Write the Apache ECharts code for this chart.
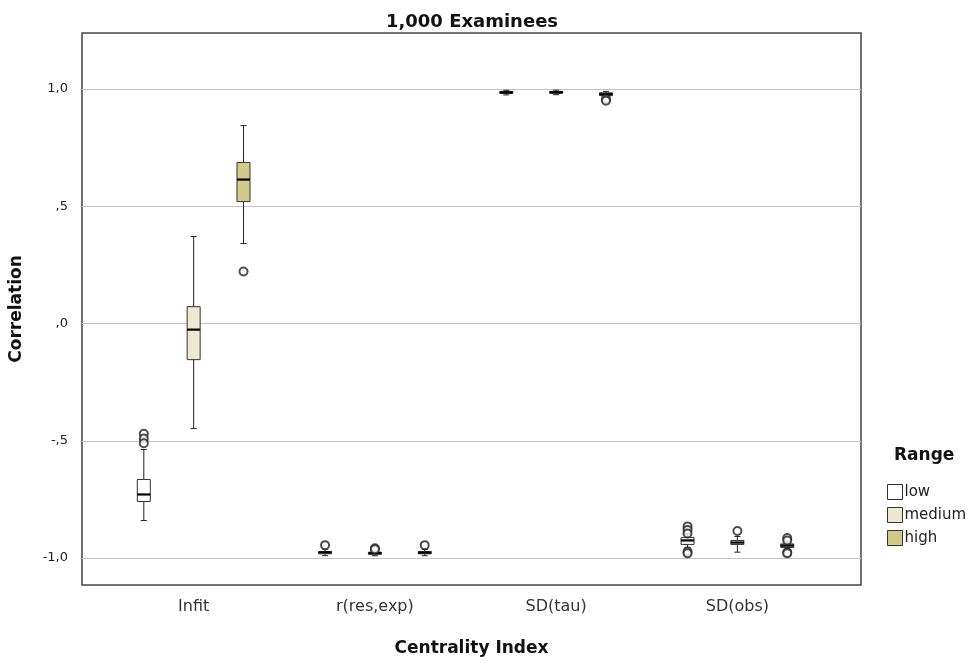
<!DOCTYPE html>
<html>
<head>
<meta charset="utf-8">
<script src="https://cdn.jsdelivr.net/npm/echarts@6/dist/echarts.min.js"></script>
<style>
  html, body { margin: 0; padding: 0; background: #fff; }
  #chart { width: 970px; height: 663px; }
</style>
</head>
<body>
<div id="chart"></div>
<script>
// categories on the x axis and the three ranges
const categories = ['Infit', 'r(res,exp)', 'SD(tau)', 'SD(obs)'];
const ranges = ['low', 'medium', 'high'];
const rangeColors = ['#ffffff', '#eee8d3', '#d1ca8b'];
const yTicks = [-1, -0.5, 0, 0.5, 1];

// box rows per category: [whisker low, q1, median, q3, whisker high]
const lowBoxes = [
    [-0.84, -0.759, -0.729, -0.665, -0.537],
    [-0.99, -0.982, -0.976, -0.972, -0.962],
    [0.975, 0.981, 0.986, 0.99, 0.995],
    [-0.955, -0.942, -0.925, -0.913, -0.9]
];
const mediumBoxes = [
    [-0.448, -0.154, -0.026, 0.072, 0.371],
    [-0.99, -0.984, -0.979, -0.975, -0.968],
    [0.976, 0.982, 0.986, 0.99, 0.995],
    [-0.975, -0.942, -0.934, -0.925, -0.908]
];
const highBoxes = [
    [0.341, 0.52, 0.614, 0.687, 0.844],
    [-0.99, -0.982, -0.977, -0.972, -0.963],
    [0.965, 0.972, 0.978, 0.984, 0.99],
    [-0.965, -0.955, -0.947, -0.94, -0.93]
];

// outliers: [category index, value]
const lowOutliers = [
    [0, -0.47], [0, -0.49], [0, -0.51],
    [1, -0.945],
    [3, -0.865], [3, -0.88], [3, -0.895], [3, -0.972], [3, -0.98]
];
const mediumOutliers = [
    [1, -0.958], [1, -0.963],
    [3, -0.885]
];
const highOutliers = [
    [0, 0.222],
    [1, -0.945],
    [2, 0.958], [2, 0.95],
    [3, -0.915], [3, -0.925], [3, -0.975], [3, -0.98]
];

const boxSets = [lowBoxes, mediumBoxes, highBoxes];
const outlierSets = [lowOutliers, mediumOutliers, highOutliers];
const groupOffset = 0.275;   // shift of each range inside its category
const boxHalf = 6.5;
const capHalf = 3;
const font = 'DejaVu Sans, Liberation Sans, sans-serif';

function fmtTick(v) {
    let s = Math.abs(v).toFixed(1).replace('.', ',');
    if (s.indexOf('0,') === 0) s = s.slice(1);
    return (v < 0 ? '-' : '') + s;
}

function makeRender(off) {
    return (params, api) => {
        const cat = api.value(0);
        const x = api.coord([cat + off, 0])[0];
        const y = i => api.coord([0, api.value(i)])[1];
        const wl = y(1), q1 = y(2), md = y(3), q3 = y(4), wh = y(5);
        const line = { stroke: '#222', lineWidth: 1 };
        return {
            type: 'group',
            children: [
                { type: 'line', shape: { x1: x, y1: q1, x2: x, y2: wl }, style: line },
                { type: 'line', shape: { x1: x, y1: q3, x2: x, y2: wh }, style: line },
                { type: 'line', shape: { x1: x - capHalf, y1: wl, x2: x + capHalf, y2: wl }, style: line },
                { type: 'line', shape: { x1: x - capHalf, y1: wh, x2: x + capHalf, y2: wh }, style: line },
                {
                    type: 'rect',
                    shape: { x: x - boxHalf, y: q3, width: boxHalf * 2, height: Math.max(q1 - q3, 1) },
                    style: { fill: api.visual('color'), stroke: '#333', lineWidth: 1 }
                },
                { type: 'line', shape: { x1: x - boxHalf, y1: md, x2: x + boxHalf, y2: md }, style: { stroke: '#000', lineWidth: 2.2 } }
            ]
        };
    };
}

const series = [];
ranges.forEach((name, k) => {
    const off = (k - 1) * groupOffset;
    series.push({
        name: name,
        type: 'custom',
        renderItem: makeRender(off),
        itemStyle: { color: rangeColors[k], borderColor: '#333', borderWidth: 1 },
        encode: { x: 0, y: [1, 2, 3, 4, 5] },
        data: boxSets[k].map((b, i) => [i].concat(b)),
        z: 3
    });
});
ranges.forEach((name, k) => {
    const off = (k - 1) * groupOffset;
    series.push({
        name: 'outliers ' + name,
        type: 'scatter',
        symbol: 'emptyCircle',
        symbolSize: 8,
        itemStyle: { color: '#222', borderWidth: 1.3 },
        data: outlierSets[k].map(p => [p[0] + off, p[1]]),
        z: 4
    });
});

const chart = echarts.init(document.getElementById('chart'));
chart.setOption({
    animation: false,
    backgroundColor: '#fff',
    textStyle: { fontFamily: font },
    title: [
        {
            text: '1,000 Examinees',
            left: 467, top: 8, textAlign: 'center',
            textStyle: { fontSize: 18, fontWeight: 'bold', color: '#111', fontFamily: font }
        },
        {
            text: 'Range',
            left: 889, top: 442,
            textStyle: { fontSize: 17, fontWeight: 'bold', color: '#111', fontFamily: font }
        }
    ],
    legend: {
        data: ranges,
        orient: 'vertical',
        left: 882, top: 479,
        itemWidth: 15, itemHeight: 15, itemGap: 7,
        icon: 'rect',
        selectedMode: false,
        itemStyle: { borderColor: '#333', borderWidth: 1 },
        textStyle: { fontSize: 15, color: '#222', fontFamily: font, padding: [0, 0, 0, -3] }
    },
    grid: {
        left: 80, right: 109, top: 33, bottom: 78,
        show: true, borderColor: '#444', borderWidth: 1.5, backgroundColor: '#fff'
    },
    xAxis: {
        type: 'value',
        min: -0.616, max: 3.682,
        name: 'Centrality Index',
        nameLocation: 'middle',
        nameGap: 55,
        nameTextStyle: { fontSize: 17, fontWeight: 'bold', color: '#111', fontFamily: font },
        axisLine: { show: false },
        axisTick: { show: false },
        splitLine: { show: false },
        axisLabel: {
            customValues: [0, 1, 2, 3],
            formatter: v => categories[Math.round(v)],
            fontSize: 16, color: '#333', margin: 14, fontFamily: font
        }
    },
    yAxis: {
        type: 'value',
        min: -1.115, max: 1.239,
        name: 'Correlation',
        nameLocation: 'middle',
        nameGap: 57,
        nameTextStyle: { fontSize: 17, fontWeight: 'bold', color: '#111', fontFamily: font },
        axisLine: { show: false },
        axisTick: { show: false, customValues: yTicks },
        splitLine: { show: true, lineStyle: { color: '#c4c4c4', width: 1.2 } },
        axisLabel: {
            customValues: yTicks,
            formatter: fmtTick,
            fontSize: 13, color: '#222', margin: 14, fontFamily: font
        }
    },
    series: series
});
</script>
</body>
</html>
